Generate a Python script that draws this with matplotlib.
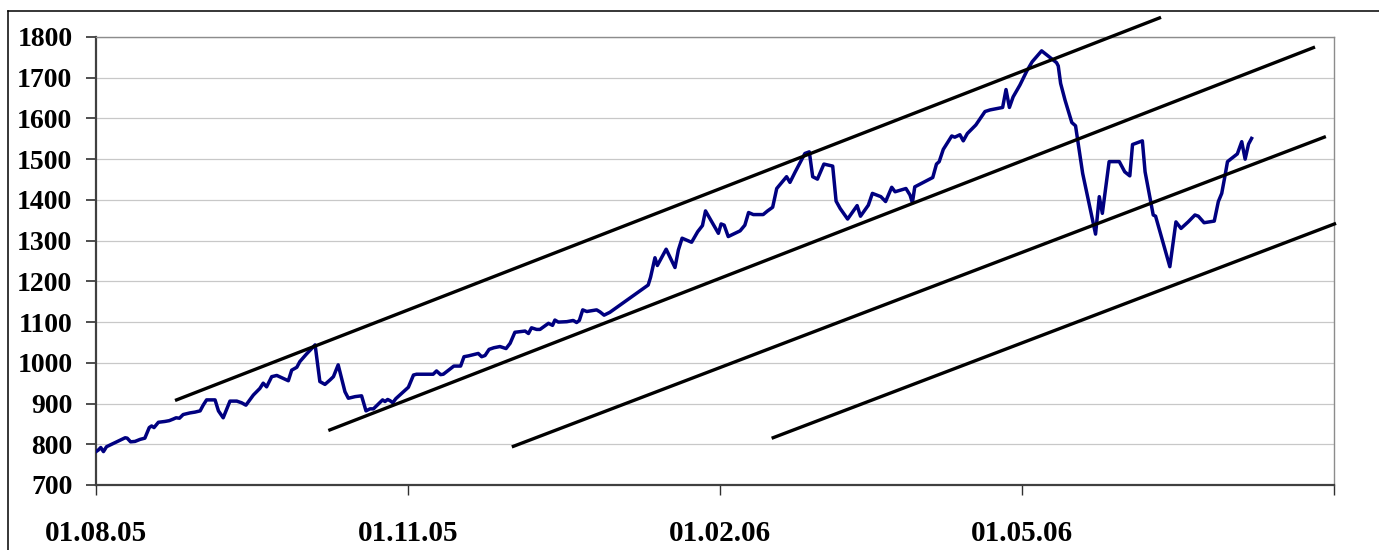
import matplotlib.pyplot as plt
import pandas as pd
from matplotlib.lines import Line2D

# Start of the date axis.
start = pd.Timestamp('2005-08-01')
end = pd.Timestamp('2006-08-01')

# Index values, days counted from 01.08.05.
days = [0, 0.7, 1.4, 2.2, 3.1, 4.1, 5.6, 7.1, 8.6, 9.2, 10.2, 11.5, 13.0, 14.4,
        15.7, 16.4, 17.1, 18.4, 20.3, 21.6, 22.8, 23.6, 24.6, 25.7, 27.7, 29.2,
        30.7, 31.6, 32.6, 35.1, 36.1, 37.5, 39.5, 41.5, 42.9, 44.2, 46.4, 48.3,
        49.3, 50.3, 51.8, 53.3, 56.7, 57.7, 59.2, 60.1, 62.1, 64.6, 66.0, 67.5,
        69.0, 70.0, 71.4, 73.4, 74.4, 76.4, 78.3, 79.6, 80.8, 81.8, 84.5, 85.2,
        86.0, 86.7, 87.5, 88.4, 90.1, 92.1, 93.6, 94.5, 99.4, 100.4, 101.6,
        102.4, 105.5, 107.5, 108.5, 109.8, 112.7, 113.7, 114.7, 115.9, 117.3,
        119.1, 120.9, 122.1, 123.5, 126.5, 127.5, 128.4, 129.9, 130.9, 133.4,
        134.6, 135.3, 136.3, 138.8, 140.7, 141.7, 142.5, 143.5, 144.7, 147.6,
        148.6, 149.8, 151.5, 162.8, 163.5, 164.8, 165.5, 168.1, 170.7, 171.7,
        172.8, 175.6, 177.4, 178.8, 179.7, 183.5, 184.3, 185.2, 186.4, 187.9,
        189.9, 191.3, 192.4, 193.8, 196.7, 198.0, 199.5, 200.7, 203.6, 204.6,
        206.1, 207.5, 209.0, 210.3, 211.3, 212.7, 214.6, 217.2, 218.2, 219.4,
        221.6, 224.4, 225.4, 227.7, 228.9, 231.4, 232.8, 234.6, 235.6, 238.8,
        240.0, 240.7, 241.4, 246.7, 247.8, 248.6, 249.8, 252.3, 253.2, 254.7,
        255.7, 256.9, 259.4, 262.1, 263.6, 267.3, 268.3, 269.3, 270.4, 272.4,
        274.4, 276.0, 278.8, 283.2, 283.7, 284.4, 285.7, 287.7, 288.8, 290.9,
        294.7, 295.8, 296.7, 298.7, 301.7, 303.3, 304.8, 305.6, 308.5, 309.3,
        311.7, 312.4, 316.6, 318.4, 319.9, 322.0, 324.0, 325.0, 326.7, 329.7,
        330.9, 331.9, 332.9, 333.6, 336.5, 337.8, 338.8, 339.8, 340.7]
values = [782, 786, 792, 782, 794, 798, 804, 810, 816, 815, 806, 807, 812, 815,
          841, 845, 841, 854, 856, 858, 862, 865, 864, 873, 877, 879,
          882, 896, 909, 909, 882, 865, 906, 906, 902, 896, 921, 937,
          950, 941, 966, 969, 956, 982, 989, 1003, 1022, 1044, 954, 947,
          958, 966, 995, 929, 913, 917, 919, 882, 887, 887, 909, 905,
          910, 907, 902, 912, 925, 940, 970, 972, 972, 980, 971,
          972, 992, 992, 1015, 1017, 1023, 1015, 1018, 1033, 1037,
          1040, 1035, 1048, 1075, 1078, 1072, 1086, 1082, 1082, 1097,
          1092, 1105, 1100, 1101, 1104, 1099, 1104, 1130, 1126, 1130,
          1125, 1117, 1124, 1191, 1210, 1258, 1239, 1279, 1234, 1277,
          1306, 1296, 1322, 1337, 1373, 1318, 1341, 1338, 1310, 1316,
          1324, 1338, 1369, 1364, 1364, 1373, 1382, 1428, 1457, 1443,
          1468, 1490, 1514, 1518, 1457, 1451, 1488, 1483, 1397, 1379,
          1353, 1386, 1360, 1387, 1416, 1408, 1396, 1431, 1420, 1428,
          1412, 1393, 1432, 1455, 1488, 1494, 1524, 1557, 1554, 1560,
          1545, 1563, 1584, 1617, 1621, 1627, 1671, 1627, 1653, 1682,
          1716, 1739, 1766, 1737, 1729, 1686, 1645, 1590, 1582, 1465,
          1316, 1408, 1367, 1494, 1494, 1469, 1459, 1536, 1545, 1469,
          1363, 1360, 1236, 1346, 1330, 1346, 1363, 1360, 1344, 1348,
          1396, 1416, 1461, 1494, 1513, 1543, 1500, 1537, 1551]

# Trend channel lines: (start day, end day) and (start level, end level).
trend_days = [(23.3, 314.0), (68.5, 359.4), (122.6, 362.6), (199.2, 365.6)]
trend_values = [(907.5, 1848.3), (833.8, 1775.4), (793.5, 1555.6), (814.7, 1342.5)]

tick_dates = ['2005-08-01', '2005-11-01', '2006-02-01', '2006-05-01', '2006-08-01']
tick_labels = ['01.08.05', '01.11.05', '01.02.06', '01.05.06', '']
y_ticks = list(range(700, 1900, 100))

plt.rcParams['font.family'] = ['Liberation Serif', 'DejaVu Serif']

fig = plt.figure(figsize=(13.79, 5.5), dpi=100)
ax = fig.add_axes([96 / 1379, 65 / 550, 1238 / 1379, 448 / 550])

# Index line.
dates = start + pd.to_timedelta(days, unit='D')
ax.plot(dates, values, color='#000080', linewidth=2.5, zorder=3)

# Trend lines, drawn past the plot area like in the original.
for (d0, d1), (v0, v1) in zip(trend_days, trend_values):
    x = start + pd.to_timedelta([d0, d1], unit='D')
    ax.plot(x, [v0, v1], color='black', linewidth=2.4, zorder=4,
            clip_on=False, solid_capstyle='butt')

# Axes styling.
ax.set_xlim(start, end)
ax.set_ylim(700, 1800)
ax.set_yticks(y_ticks)
ax.set_yticklabels([str(v) for v in y_ticks], fontsize=20, fontweight='bold')
ax.set_xticks(pd.to_datetime(tick_dates))
ax.set_xticklabels(tick_labels, fontsize=21, fontweight='bold')
ax.tick_params(axis='y', direction='out', length=7, width=1.2, pad=10,
               color='#303030')
ax.tick_params(axis='x', direction='out', length=7, width=1, pad=18,
               color='#303030')
ax.grid(axis='y', color='#c8c8c8', linewidth=0.9)
ax.set_axisbelow(True)
for side in ['left', 'bottom']:
    ax.spines[side].set_color('#404040')
    ax.spines[side].set_linewidth(1.6)
for side in ['top', 'right']:
    ax.spines[side].set_color('#8c8c8c')
    ax.spines[side].set_linewidth(1.0)

# Outer chart frame (cut off at right and bottom).
fig.add_artist(Line2D([8 / 1379, 8 / 1379], [0, 1 - 11 / 550],
                      transform=fig.transFigure, color='black', linewidth=1.1))
fig.add_artist(Line2D([8 / 1379, 1], [1 - 11 / 550, 1 - 11 / 550],
                      transform=fig.transFigure, color='black', linewidth=1.1))

fig.savefig('out.png', dpi=100)
